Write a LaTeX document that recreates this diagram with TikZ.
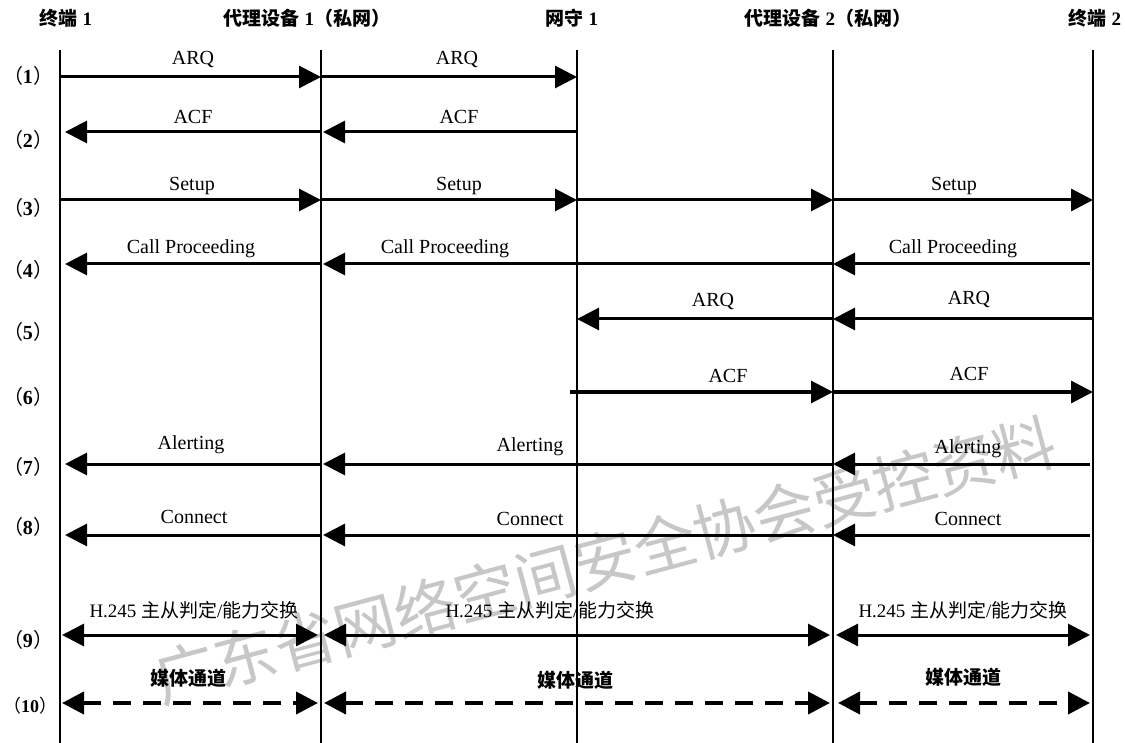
\documentclass[tikz,border=0pt]{standalone}
\usepackage{fontspec}
\setmainfont{Liberation Serif}
\newfontfamily\cjk{Noto Sans CJK SC}
\usetikzlibrary{arrows.meta,calc}
\newcommand\rowl[1]{{\cjk （}\textbf{#1}{\cjk ）}}
\begin{document}
\begin{tikzpicture}[x=1pt,y=-1pt,
  life/.style={line width=2pt},
  msg/.style={line width=3pt,-{Triangle[length=22pt,width=22pt]}},
  both/.style={line width=3pt,{Triangle[length=22pt,width=22pt]}-{Triangle[length=22pt,width=22pt]}},
  media/.style={line width=4pt,dash pattern=on 18pt off 12pt,{Triangle[length=22pt,width=22pt]}-{Triangle[length=22pt,width=22pt]}},
  head/.style={font=\fontsize{19}{22}\selectfont\bfseries,inner sep=0pt},
  rowlab/.style={font=\fontsize{20}{22}\selectfont,inner sep=0pt},
  lab/.style={font=\fontsize{20}{22}\selectfont,inner sep=0pt},
  zlab/.style={font=\fontsize{19}{22}\selectfont,inner sep=0pt},
  wm/.style={font=\cjk\fontsize{62}{64}\selectfont,text=black!22,rotate=15,inner sep=0pt}
]
\useasboundingbox (0,0) rectangle (1125,743);
\fill[white] (0,0) rectangle (1125,743);

% watermark
\node[wm] (wmark) at (605,560) {广东省网络空间安全协会受控资料};

% headers
\node[head] (h1) at (66,18) {{\cjk 终端} 1};
\node[head] (h2) at (307,18) {{\cjk 代理设备} 1{\cjk （私网）}};
\node[head] (h3) at (572,18) {{\cjk 网守} 1};
\node[head] (h4) at (828,18) {{\cjk 代理设备} 2{\cjk （私网）}};
\node[head] (h5) at (1095,18) {{\cjk 终端} 2};

% lifelines
\coordinate (A) at (60,50);
\coordinate (B) at (321,50);
\coordinate (C) at (577,50);
\coordinate (D) at (833,50);
\coordinate (E) at (1093,50);
\coordinate (bot) at (0,743);
\foreach \p in {A,B,C,D,E}{\draw[life] (\p) -- (\p|-bot);}

% rows
\coordinate (r1) at (0,77);
\coordinate (r2) at (0,132);
\coordinate (r3) at (0,200);
\coordinate (r4) at (0,264);
\coordinate (r5) at (0,319);
\coordinate (r6) at (0,392);
\coordinate (r7) at (0,464);
\coordinate (r8) at (0,535);
\coordinate (r9) at (0,635);
\coordinate (r10) at (0,703);

% row labels
\node[rowlab] (n1) at (28,76) {\rowl{1}};
\node[rowlab] (n2) at (28,140) {\rowl{2}};
\node[rowlab] (n3) at (28,208) {\rowl{3}};
\node[rowlab] (n4) at (28,270) {\rowl{4}};
\node[rowlab] (n5) at (28,332) {\rowl{5}};
\node[rowlab] (n6) at (28,397) {\rowl{6}};
\node[rowlab] (n7) at (28,467) {\rowl{7}};
\node[rowlab] (n8) at (28,527) {\rowl{8}};
\node[rowlab] (n9) at (28,640) {\rowl{9}};
\node[rowlab,font=\fontsize{18}{20}\selectfont] (n10) at (30,706) {\rowl{10}};

% (1)
\draw[msg] (A|-r1) -- (B|-r1);
\draw[msg] (B|-r1) -- (C|-r1);
\node[lab] (m1a) at (193,60) {ARQ};
\node[lab] (m1b) at (457,60) {ARQ};
% (2)
\draw[msg] (C|-r2) -- ($(B|-r2)+(2,0)$);
\draw[msg] (B|-r2) -- ($(A|-r2)+(5,0)$);
\node[lab] (m2a) at (193,117) {ACF};
\node[lab] (m2b) at (459,117) {ACF};
% (3)
\draw[msg] (A|-r3) -- (B|-r3);
\draw[msg] (B|-r3) -- (C|-r3);
\draw[msg] (C|-r3) -- (D|-r3);
\draw[msg] (D|-r3) -- (E|-r3);
\node[lab] (m3a) at (192,186) {Setup};
\node[lab] (m3b) at (459,186) {Setup};
\node[lab] (m3c) at (954,186) {Setup};
% (4)
\draw[msg] ($(E|-r4)+(-3,0)$) -- (D|-r4);
\draw[msg] (D|-r4) -- ($(B|-r4)+(2,0)$);
\draw[msg] (B|-r4) -- ($(A|-r4)+(5,0)$);
\node[lab] (m4a) at (191,249) {Call Proceeding};
\node[lab] (m4b) at (445,249) {Call Proceeding};
\node[lab] (m4c) at (953,249) {Call Proceeding};
% (5)
\draw[msg] (E|-r5) -- (D|-r5);
\draw[msg] (D|-r5) -- (C|-r5);
\node[lab] (m5a) at (713,302) {ARQ};
\node[lab] (m5b) at (969,300) {ARQ};
% (6)
\draw[msg] ($(C|-r6)+(-7,0)$) -- (D|-r6);
\draw[msg] (D|-r6) -- (E|-r6);
\node[lab] (m6a) at (728,376) {ACF};
\node[lab] (m6b) at (969,374) {ACF};
% (7)
\draw[msg] ($(E|-r7)+(-3,0)$) -- (D|-r7);
\draw[msg] (D|-r7) -- ($(B|-r7)+(2,0)$);
\draw[msg] (B|-r7) -- ($(A|-r7)+(5,0)$);
\node[lab] (m7a) at (191,445) {Alerting};
\node[lab] (m7b) at (530,447) {Alerting};
\node[lab] (m7c) at (968,449) {Alerting};
% (8)
\draw[msg] ($(E|-r8)+(-3,0)$) -- (D|-r8);
\draw[msg] (D|-r8) -- ($(B|-r8)+(2,0)$);
\draw[msg] (B|-r8) -- ($(A|-r8)+(5,0)$);
\node[lab] (m8a) at (194,517) {Connect};
\node[lab] (m8b) at (530,519) {Connect};
\node[lab] (m8c) at (968,519) {Connect};
% (9)
\draw[both] ($(A|-r9)+(2,0)$) -- ($(B|-r9)+(-3,0)$);
\draw[both] ($(B|-r9)+(3,0)$) -- ($(D|-r9)+(-3,0)$);
\draw[both] ($(D|-r9)+(3,0)$) -- ($(E|-r9)+(-3,0)$);
\node[zlab] (m9a) at (194,610) {H.245 {\cjk 主从判定}/{\cjk 能力交换}};
\node[zlab] (m9b) at (550,610) {H.245 {\cjk 主从判定}/{\cjk 能力交换}};
\node[zlab] (m9c) at (963,610) {H.245 {\cjk 主从判定}/{\cjk 能力交换}};
% (10)
\draw[media] ($(A|-r10)+(2,0)$) -- ($(B|-r10)+(-3,0)$);
\draw[media] ($(B|-r10)+(3,0)$) -- ($(D|-r10)+(-3,0)$);
\draw[media] ($(D|-r10)+(5,0)$) -- ($(E|-r10)+(-3,0)$);
\node[zlab] (m10a) at (188,678) {\cjk\bfseries 媒体通道};
\node[zlab] (m10b) at (575,680) {\cjk\bfseries 媒体通道};
\node[zlab] (m10c) at (963,677) {\cjk\bfseries 媒体通道};
\end{tikzpicture}
\end{document}
